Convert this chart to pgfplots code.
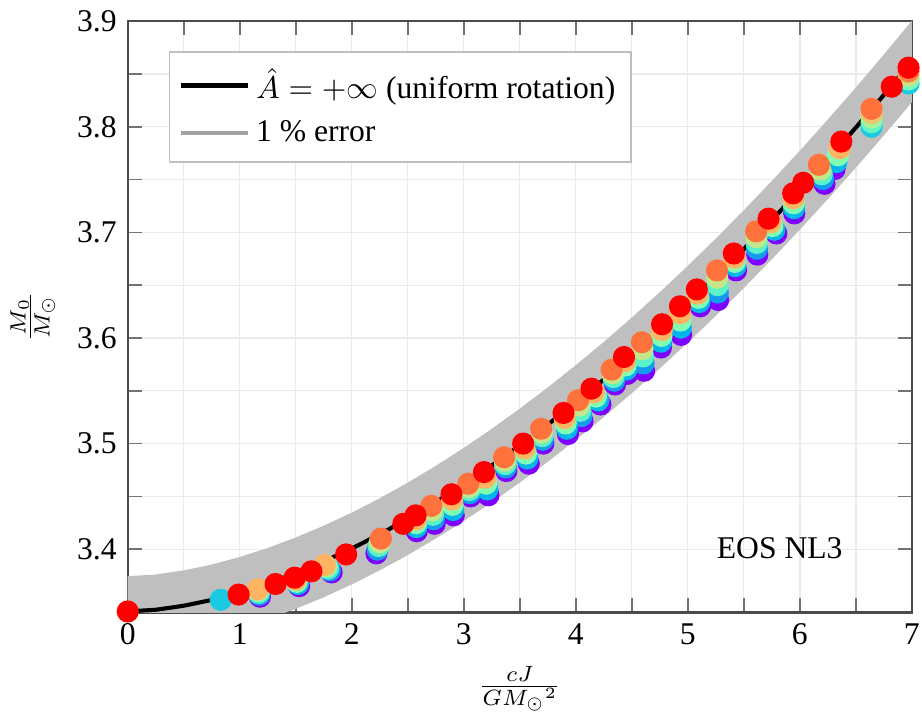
\documentclass[border=0pt]{standalone}
\usepackage{fontspec}
\setmainfont{Liberation Serif}
\usepackage{pgfplots}
\pgfplotsset{compat=1.18}
\definecolor{bandgray}{RGB}{191,191,191}
\definecolor{gridgray}{RGB}{234,234,234}
\begin{document}
\begin{tikzpicture}
\begin{axis}[
  width=248pt, height=187pt, scale only axis,
  xmin=0, xmax=7, ymin=3.34, ymax=3.9,
  xtick={0,1,2,3,4,5,6,7}, ytick={3.4,3.5,3.6,3.7,3.8,3.9},
  minor x tick num=1, minor y tick num=1,
  grid=both,
  major grid style={gridgray, line width=0.4pt},
  minor grid style={gridgray, line width=0.4pt},
  tick style={black!55, line width=0.5pt},
  major tick length=4.5pt, minor tick length=4.5pt,
  tick align=inside,
  axis line style={black!70, line width=0.7pt},
  /pgf/number format/assume math mode=true,
  yticklabel style={/pgf/number format/fixed, /pgf/number format/precision=1, /pgf/number format/fixed zerofill},
  xlabel={$\frac{cJ}{GM_\odot{}^2}$},
  ylabel={$\frac{M_0}{M_\odot}$},
  clip mode=individual,
  colormap={rainbowmpl}{rgb=(0.5,0,1) rgb=(0.25,0.383,0.981) rgb=(0,0.707,0.924) rgb=(0.25,0.924,0.831) rgb=(0.5,1,0.707) rgb=(0.75,0.924,0.556) rgb=(1,0.707,0.383) rgb=(1,0.383,0.195) rgb=(1,0,0)},
  legend style={at={(rel axis cs:0.052,0.949)}, anchor=north west, draw=black!25, line width=0.6pt, inner xsep=3pt, inner ysep=3pt, row sep=1.5pt, font=\normalsize},
  legend cell align=left,
  legend image code/.code={\draw[#1] (0pt,0pt) -- (21pt,0pt);},
]
% 1 % band
\addplot[fill=bandgray, draw=none, forget plot] coordinates {
(0,3.3744) (0.25,3.3760) (0.5,3.3799) (0.75,3.3854) (1,3.3926) (1.25,3.4011) (1.5,3.4111) (1.75,3.4222) (2,3.4346) (2.25,3.4482) (2.5,3.4630) (2.75,3.4789) (3,3.4959) (3.25,3.5140) (3.5,3.5331) (3.75,3.5532) (4,3.5743) (4.25,3.5963) (4.5,3.6194) (4.75,3.6434) (5,3.6684) (5.25,3.6942) (5.5,3.7210) (5.75,3.7488) (6,3.7774) (6.25,3.8070) (6.5,3.8373) (6.75,3.8685) (7,3.9005)
(7,3.8233) (6.75,3.7919) (6.5,3.7613) (6.25,3.7316) (6,3.7026) (5.75,3.6746) (5.5,3.6474) (5.25,3.6210) (5,3.5958) (4.75,3.5712) (4.5,3.5478) (4.25,3.5251) (4,3.5035) (3.75,3.4828) (3.5,3.4631) (3.25,3.4444) (3,3.4267) (2.75,3.4101) (2.5,3.3944) (2.25,3.3800) (2,3.3666) (1.75,3.3544) (1.5,3.3435) (1.25,3.3337) (1,3.3254) (0.75,3.3184) (0.5,3.3129) (0.25,3.3092) (0,3.3076)
} -- cycle;
% uniform rotation curve
\addplot[black, line width=1.3pt, forget plot] coordinates {
(0,3.3410) (0.25,3.3426) (0.5,3.3464) (0.75,3.3519) (1,3.3590) (1.25,3.3674) (1.5,3.3773) (1.75,3.3883) (2,3.4006) (2.25,3.4141) (2.5,3.4287) (2.75,3.4445) (3,3.4613) (3.25,3.4792) (3.5,3.4981) (3.75,3.5180) (4,3.5389) (4.25,3.5607) (4.5,3.5836) (4.75,3.6073) (5,3.6321) (5.25,3.6576) (5.5,3.6842) (5.75,3.7117) (6,3.7400) (6.25,3.7693) (6.5,3.7993) (6.75,3.8302) (7,3.8619)
};
% differential rotation sequences
\addplot[scatter, only marks, mark=*, mark size=3.3pt, forget plot,
  point meta=explicit, point meta min=0, point meta max=1,
  scatter/use mapped color={draw=mapped color, fill=mapped color}]
  table[x=x, y=y, meta=c] {
x y c
1.18 3.355 0
1.53 3.365 0
1.82 3.378 0
2.22 3.396 0
2.58 3.417 0
2.74 3.424 0
2.91 3.432 0
3.06 3.450 0
3.22 3.451 0
3.38 3.474 0
3.58 3.481 0
3.71 3.500 0
3.93 3.509 0
4.06 3.521 0
4.22 3.537 0
4.35 3.556 0
4.46 3.566 0
4.61 3.569 0
4.76 3.591 0
4.94 3.603 0
5.11 3.630 0
5.27 3.636 0
5.43 3.664 0
5.62 3.679 0
5.79 3.699 0
5.95 3.718 0
6.22 3.746 0
6.31 3.760 0
6.64 3.800 0.3
6.97 3.841 0.3
0.83 3.352 0.3
1.175 3.3568 0.1875
1.52 3.367 0.25
1.805 3.3798 0.1875
2.23 3.3995 0.2125
2.5775 3.4208 0.25
2.7325 3.4283 0.2125
2.905 3.437 0.25
3.055 3.453 0.2125
3.21 3.4565 0.25
3.375 3.4773 0.2125
3.5675 3.4858 0.25
3.705 3.5035 0.2125
3.92 3.514 0.25
4.05 3.526 0.2125
4.20 3.5408 0.25
4.3425 3.5595 0.2125
4.4525 3.570 0.25
4.605 3.5758 0.2125
4.7625 3.5965 0.25
4.9375 3.6098 0.25
5.1025 3.634 0.25
5.2675 3.643 0.2125
5.425 3.668 0.25
5.6175 3.6845 0.2125
5.7725 3.7025 0.25
5.9475 3.7228 0.25
6.2075 3.7505 0.2125
6.325 3.7665 0.25
6.64 3.8043 0.4375
6.97 3.8448 0.475
1.17 3.3585 0.375
1.51 3.369 0.5
1.79 3.3815 0.375
2.24 3.403 0.425
2.575 3.4245 0.5
2.725 3.4325 0.425
2.90 3.442 0.5
3.05 3.456 0.425
3.20 3.462 0.5
3.37 3.4805 0.425
3.555 3.4905 0.5
3.70 3.507 0.425
3.91 3.519 0.5
4.04 3.531 0.425
4.18 3.5445 0.5
4.335 3.563 0.425
4.445 3.574 0.5
4.60 3.5825 0.425
4.765 3.602 0.5
4.935 3.6165 0.5
5.095 3.638 0.5
5.265 3.650 0.425
5.42 3.672 0.5
5.615 3.690 0.425
5.755 3.706 0.5
5.945 3.7275 0.5
6.195 3.755 0.425
6.34 3.773 0.5
6.64 3.8085 0.575
6.97 3.8485 0.65
1.165 3.3603 0.5625
1.50 3.371 0.75
1.775 3.3833 0.5625
2.25 3.4065 0.6375
2.5725 3.4283 0.75
2.7175 3.4368 0.6375
2.895 3.447 0.75
3.045 3.459 0.6375
3.19 3.4675 0.75
3.365 3.4838 0.6375
3.5425 3.4953 0.75
3.695 3.5105 0.6375
3.90 3.524 0.75
4.03 3.536 0.6375
4.16 3.5483 0.75
4.3275 3.5665 0.6375
4.4375 3.578 0.75
4.595 3.5893 0.6375
4.7675 3.6075 0.75
4.9325 3.6233 0.75
5.0875 3.642 0.75
5.2625 3.657 0.6375
5.415 3.676 0.75
5.6125 3.6955 0.6375
5.7375 3.7095 0.75
5.9425 3.7323 0.75
6.1825 3.7595 0.6375
6.355 3.7795 0.75
6.64 3.8128 0.7125
6.97 3.8523 0.825
1.16 3.362 0.75
1.76 3.385 0.75
2.26 3.410 0.85
2.71 3.441 0.85
3.04 3.462 0.85
3.36 3.487 0.85
3.69 3.514 0.85
4.02 3.541 0.85
4.32 3.570 0.85
4.59 3.596 0.85
5.26 3.664 0.85
5.61 3.701 0.85
6.17 3.764 0.85
6.64 3.817 0.85
1.49 3.373 1
2.57 3.432 1
2.89 3.452 1
3.18 3.473 1
3.53 3.500 1
3.89 3.529 1
4.14 3.552 1
4.43 3.582 1
4.77 3.613 1
4.93 3.630 1
5.08 3.646 1
5.41 3.680 1
5.72 3.713 1
5.94 3.737 1
6.37 3.786 1
6.97 3.856 1
0 3.341 1
0.99 3.357 1
1.32 3.367 1
1.64 3.379 1
1.95 3.395 1
2.46 3.424 1
6.03 3.747 1
6.82 3.838 1
};
\addlegendimage{black, line width=1.4pt}
\addlegendentry{$\hat{A}=+\infty$ (uniform rotation)}
\addlegendimage{color=bandgray!85!black, line width=1.4pt}
\addlegendentry{1 \% error}
\node[font=\normalsize] at (axis cs:5.82,3.401) {EOS NL3};
\end{axis}
\pgfresetboundingbox
\path[use as bounding box] (current axis.outer south west) rectangle ([xshift=3.2pt]current axis.outer north east -| current axis.east);
\end{tikzpicture}
\end{document}
